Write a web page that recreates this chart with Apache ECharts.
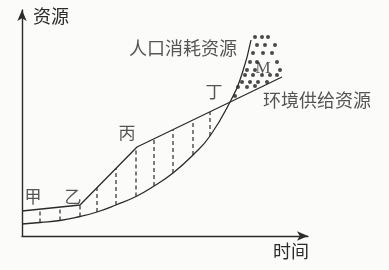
<!DOCTYPE html>
<html><head><meta charset="utf-8">
<script src="https://cdn.jsdelivr.net/npm/echarts@6/dist/echarts.min.js"></script>
<style>html,body{margin:0;padding:0;background:#fbfbfa}#c{width:389px;height:270px}</style>
</head><body><div id="c"></div>
<script>
// environment supply (piecewise line) and population consumption (curve)
const supplyPts = [[0,25],[58,31],[115,89],[260,159]];
const consumePts = [[0,12],[18,13.5],[38,15.5],[58,19.5],[75,24],[94,31],[114,39.5],[132,50],[151,63],[171,81],[188,100],[208,134],[220,162],[229,196]];
// dashed hatch lines between the curves
const dashX = [18,38,58,75,94,114,132,151,171,188];
const dashLow = [13.5,15.5,19.5,24,31,39.5,50,63,81,100];
const dashHigh = [27,29,31,48,68,88,97,106,116,124];
// dots of region M
const dotsM = [[233,199],[240,199],[246,199],[235,191],[243,191],[253,191],[231,183],[241,183],[250,183],
  [228,174],[235,174],[255,174],[225,166],[233,166],[258,166],[223,161],[231,161],[240,161],[248,161],[255,161],
  [220,154],[228,154],[236,154],[245,154],[216,149],[225,149],[233,150],[213,140]];
const pointLabels = ['甲','乙','丙','丁'];
const pointLabelPos = [[11,39],[51,39],[105,103],[192,144]];
const curveNames = ['人口消耗资源','环境供给资源'];
const curveNamePos = [[161,188],[295,136]];
const regionLabel = 'M';
const regionLabelPos = [241,167];
const axisNames = ['时间','资源'];

const ink = '#2b2b2b';
const cjk = '"Noto Sans CJK SC", sans-serif';
const chart = echarts.init(document.getElementById('c'));
const axisCommon = {
  type: 'value', axisTick: {show: false}, axisLabel: {show: false}, splitLine: {show: false},
  axisLine: {show: true, symbol: ['none','arrow'], symbolSize: [7,11], lineStyle: {color: ink, width: 1.4}}
};
const textLabels = [];
pointLabels.forEach((t,i)=>textLabels.push({value: pointLabelPos[i], name: t, label: {fontSize: 17}}));
curveNames.forEach((t,i)=>textLabels.push({value: curveNamePos[i], name: t, label: {fontSize: 18}}));
chart.setOption({
  animation: false,
  backgroundColor: '#fbfbfa',
  grid: {left: 22, right: 81, top: 10, bottom: 34},
  xAxis: Object.assign({}, axisCommon, {min: 0, max: 286, name: axisNames[0], nameLocation: 'end', nameGap: -35,
    nameTextStyle: {fontFamily: cjk, fontSize: 18, color: ink, align: 'left', verticalAlign: 'top', padding: [6,0,0,0]}}),
  yAxis: Object.assign({}, axisCommon, {min: 0, max: 226, name: axisNames[1], nameLocation: 'end', nameGap: -6,
    nameTextStyle: {fontFamily: cjk, fontSize: 18, color: ink, align: 'left', verticalAlign: 'middle', padding: [0,0,0,11]}}),
  series: [
    {type: 'line', data: supplyPts, showSymbol: false, lineStyle: {color: ink, width: 1.3}},
    {type: 'line', data: consumePts, showSymbol: false, smooth: true, lineStyle: {color: ink, width: 1.3}},
    {type: 'custom', data: dashX.map((x,i)=>[x, dashLow[i], dashHigh[i]]),
      renderItem: function(params, api){
        const p1 = api.coord([api.value(0), api.value(1)]);
        const p2 = api.coord([api.value(0), api.value(2)]);
        return {type: 'line', shape: {x1: p1[0], y1: p1[1], x2: p2[0], y2: p2[1]},
          style: {stroke: ink, lineWidth: 1.2, lineDash: [4,3]}};
      }},
    {type: 'scatter', data: dotsM, symbolSize: 4, itemStyle: {color: '#1e1e1e'}, clip: false},
    {type: 'scatter', data: textLabels, symbolSize: 0, clip: false,
      label: {show: true, position: 'inside', formatter: p=>p.name, fontFamily: cjk, color: ink}},
    {type: 'scatter', data: [{value: regionLabelPos, name: regionLabel}], symbolSize: 0, clip: false,
      label: {show: true, position: 'inside', formatter: p=>p.name, fontFamily: '"Liberation Serif", serif', fontSize: 17, color: ink}}
  ]
});
</script></body></html>
